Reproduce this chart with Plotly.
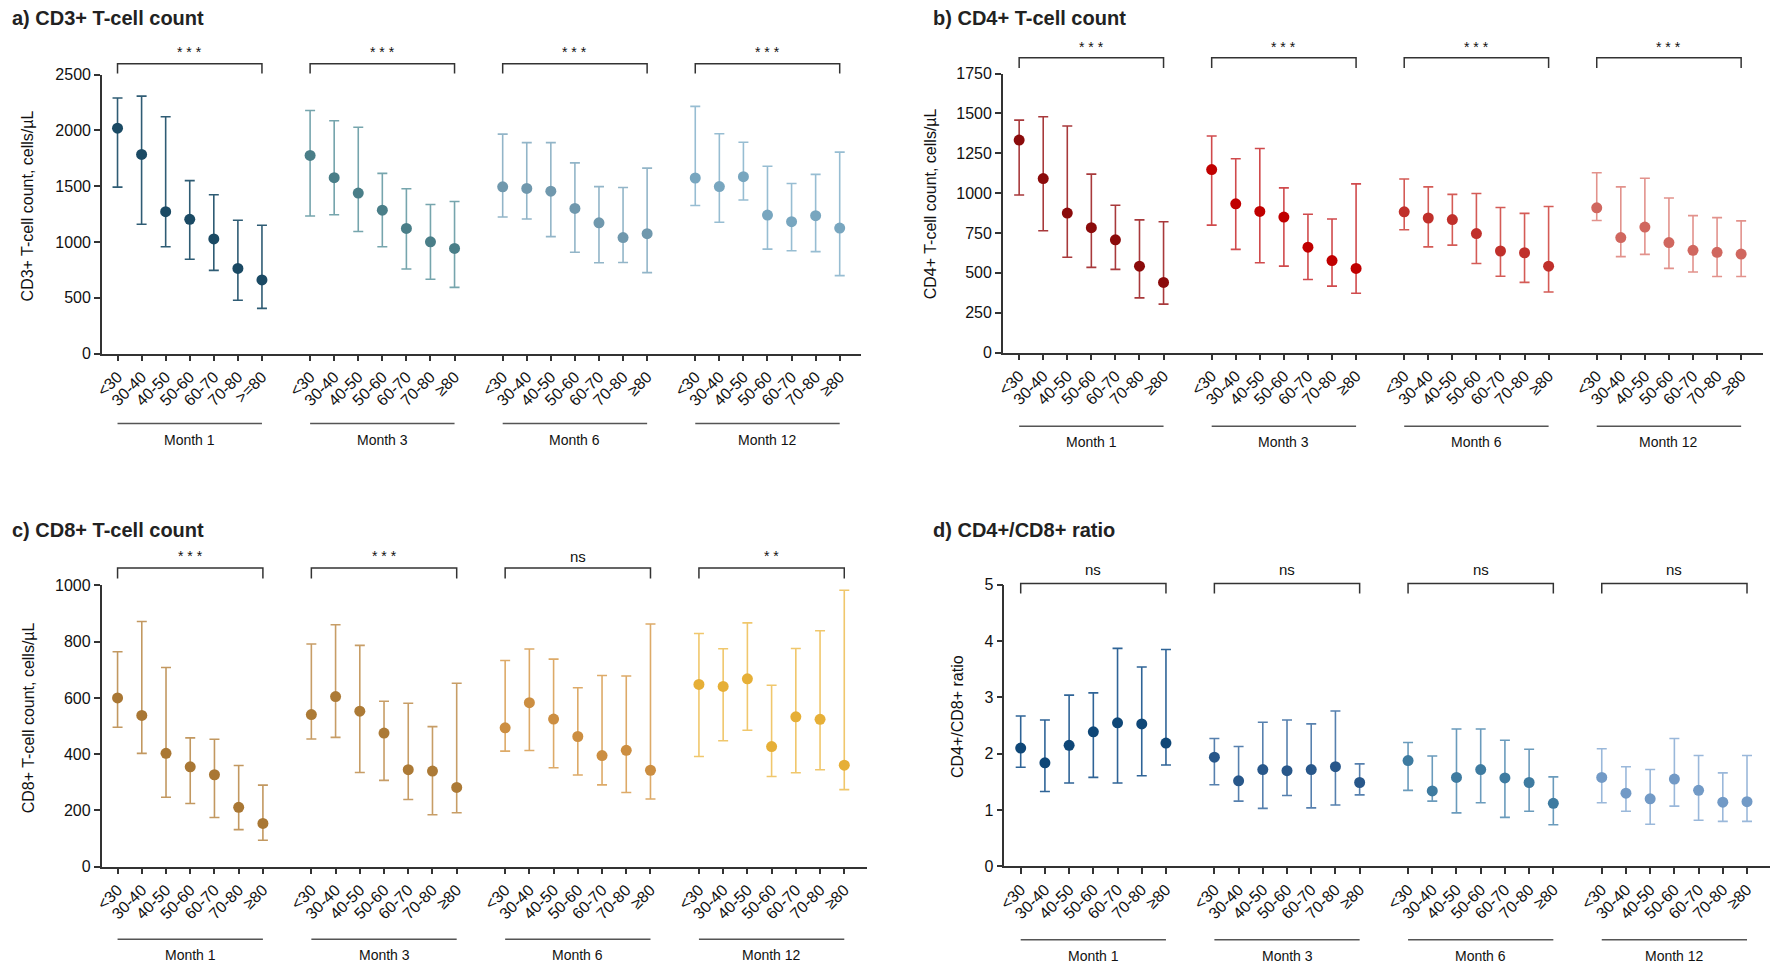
import plotly.graph_objects as go

W, H = 1772, 973

ages = ["<30", "30-40", "40-50", "50-60", "60-70", "70-80", "≥80"]
months = ["Month 1", "Month 3", "Month 6", "Month 12"]

# medians and upper / lower ends of the error bars, one row per month
cd3_mid = [[2019, 1784, 1271, 1203, 1027, 763, 660],
           [1775, 1576, 1438, 1285, 1121, 1001, 942],
           [1494, 1479, 1455, 1300, 1171, 1039, 1074],
           [1573, 1496, 1585, 1241, 1182, 1235, 1124]]
cd3_hi = [[2289, 2306, 2121, 1549, 1423, 1194, 1150],
          [2177, 2086, 2028, 1614, 1476, 1335, 1362],
          [1966, 1890, 1890, 1708, 1496, 1488, 1661],
          [2215, 1969, 1893, 1678, 1523, 1605, 1805]]
cd3_lo = [[1491, 1159, 957, 845, 745, 478, 405],
          [1232, 1244, 1094, 957, 757, 666, 593],
          [1224, 1206, 1048, 907, 813, 816, 725],
          [1326, 1177, 1376, 936, 921, 913, 698]]

cd4_mid = [[1333, 1091, 875, 783, 707, 542, 440],
           [1148, 933, 885, 850, 661, 577, 528],
           [883, 844, 834, 746, 637, 626, 542],
           [908, 721, 787, 690, 641, 629, 618]]
cd4_hi = [[1458, 1479, 1421, 1119, 924, 832, 820],
          [1358, 1216, 1280, 1033, 867, 838, 1058],
          [1089, 1039, 992, 998, 910, 873, 916],
          [1128, 1039, 1093, 969, 859, 846, 826]]
cd4_lo = [[988, 764, 598, 534, 522, 343, 304],
          [799, 647, 563, 542, 458, 417, 372],
          [770, 663, 674, 559, 479, 440, 380],
          [828, 602, 616, 528, 505, 477, 477]]

cd8_mid = [[600, 538, 403, 355, 327, 211, 154],
           [541, 605, 553, 475, 345, 340, 282],
           [494, 583, 525, 463, 395, 414, 343],
           [648, 641, 668, 427, 533, 524, 361]]
cd8_hi = [[764, 872, 708, 458, 453, 360, 290],
          [792, 860, 787, 588, 581, 498, 652],
          [733, 774, 738, 636, 680, 678, 863],
          [829, 775, 867, 645, 776, 839, 983]]
cd8_lo = [[496, 403, 247, 225, 175, 132, 94],
          [454, 460, 335, 307, 239, 185, 192],
          [411, 413, 352, 326, 291, 264, 241],
          [392, 448, 485, 321, 334, 345, 274]]

ratio_mid = [[2.10, 1.84, 2.15, 2.39, 2.55, 2.53, 2.19],
             [1.94, 1.52, 1.72, 1.70, 1.72, 1.77, 1.49],
             [1.88, 1.34, 1.58, 1.72, 1.57, 1.49, 1.12],
             [1.58, 1.30, 1.20, 1.55, 1.35, 1.14, 1.15]]
ratio_hi = [[2.67, 2.60, 3.04, 3.08, 3.87, 3.54, 3.85],
            [2.27, 2.13, 2.56, 2.60, 2.53, 2.76, 1.82],
            [2.20, 1.96, 2.44, 2.44, 2.24, 2.08, 1.59],
            [2.09, 1.77, 1.72, 2.27, 1.97, 1.66, 1.97]]
ratio_lo = [[1.76, 1.33, 1.48, 1.58, 1.48, 1.61, 1.80],
            [1.45, 1.16, 1.03, 1.26, 1.04, 1.09, 1.27],
            [1.35, 1.16, 0.95, 1.13, 0.87, 0.98, 0.74],
            [1.13, 0.98, 0.75, 1.07, 0.82, 0.80, 0.80]]

cd3_sig = ["* * *", "* * *", "* * *", "* * *"]
cd4_sig = ["* * *", "* * *", "* * *", "* * *"]
cd8_sig = ["* * *", "* * *", "ns", "* *"]
ratio_sig = ["ns", "ns", "ns", "ns"]


def px_x(v):
    return v / W


def px_y(v):
    return 1 - v / H


panels = [
    dict(ax="", title="a) CD3+ T-cell count", ytitle="CD3+ T-cell count, cells/µL",
         mid=cd3_mid, hi=cd3_hi, lo=cd3_lo, sig=cd3_sig,
         xdom=(94.3, 857), ydom=(351.7, 67.7), xr=(-0.65, 30.89), yr=(0, 2500), dtick=500,
         title_xy=(2, 10), ytitle_xy=(20, 201),
         br=(56.7, 66.7, 45), mline=(423, 440),
         mk=["#1B4A64", "#4A7E88", "#7098AD", "#78A6BF"],
         eb=["#2F5C74", "#76A5AD", "#92B5C8", "#97BDD2"],
         first_last=">=80"),
    dict(ax="2", title="b) CD4+ T-cell count", ytitle="CD4+ T-cell count, cells/µL",
         mid=cd4_mid, hi=cd4_hi, lo=cd4_lo, sig=cd4_sig,
         xdom=(999.3, 1763), ydom=(350.7, 66.7), xr=(-0.68, 30.91), yr=(0, 1750), dtick=250,
         title_xy=(927, 10), ytitle_xy=(927, 199),
         br=(50.7, 61, 40), mline=(425.7, 442),
         mk=["#8B0B0B", "#C00000", "#C0302B", "#D0675F"],
         eb=["#A8393B", "#D04A4C", "#D45B56", "#E2928C"],
         first_last="≥80"),
    dict(ax="3", title="c) CD8+ T-cell count", ytitle="CD8+ T-cell count, cells/µL",
         mid=cd8_mid, hi=cd8_hi, lo=cd8_lo, sig=cd8_sig,
         xdom=(94, 862.7), ydom=(874, 587.7), xr=(-0.66, 30.93), yr=(0, 1000), dtick=200,
         title_xy=(2, 531), ytitle_xy=(20, 722),
         br=(570, 580.7, 558), mline=(947.7, 964),
         mk=["#A97734", "#AC7A36", "#CC8E41", "#E6AF37"],
         eb=["#C29860", "#C79D66", "#DDAA68", "#F0C76C"],
         first_last="≥80"),
    dict(ax="4", title="d) CD4+/CD8+ ratio", ytitle="CD4+/CD8+ ratio",
         mid=ratio_mid, hi=ratio_hi, lo=ratio_lo, sig=ratio_sig,
         xdom=(1001, 1770), ydom=(873.7, 587), xr=(-0.67, 30.95), yr=(0, 5), dtick=1,
         title_xy=(927, 531), ytitle_xy=(954, 721),
         br=(585.7, 596, 571), mline=(948.3, 965),
         mk=["#0F4777", "#28578A", "#3E7BA0", "#729AC6"],
         eb=["#2F6497", "#5680AE", "#6A9BBC", "#9AB8DA"],
         first_last="≥80"),
]

fig = go.Figure()
annotations = []
shapes = []
axis_col = "#333333"

for p in panels:
    xa = "x" + p["ax"]
    ya = "y" + p["ax"]
    tickvals = []
    ticktext = []
    for g in range(len(months)):
        xs = [8 * g + i for i in range(len(ages))]
        labels = list(ages)
        if g == 0:
            labels[-1] = p["first_last"]
        tickvals += xs
        ticktext += labels
        mid = p["mid"][g]
        fig.add_trace(go.Scatter(
            x=xs, y=mid, mode="markers", xaxis=xa, yaxis=ya,
            marker=dict(size=11, color=p["mk"][g]),
            error_y=dict(type="data", symmetric=False,
                         array=[h - m for h, m in zip(p["hi"][g], mid)],
                         arrayminus=[m - l for m, l in zip(mid, p["lo"][g])],
                         color=p["eb"][g], thickness=1.6, width=5),
            showlegend=False, hoverinfo="x+y",
        ))

        # significance bracket above each month group
        top, foot, ty = p["br"]
        shapes.append(dict(
            type="path", xref=xa, yref="paper",
            path=f"M {xs[0]},{px_y(foot)} L {xs[0]},{px_y(top)} L {xs[-1]},{px_y(top)} L {xs[-1]},{px_y(foot)}",
            line=dict(color=axis_col, width=1.5)))
        annotations.append(dict(
            x=(xs[0] + xs[-1]) / 2, y=px_y(ty), xref=xa, yref="paper",
            text=p["sig"][g], showarrow=False, yanchor="middle",
            font=dict(size=15 if p["sig"][g] == "ns" else 14, color="#111111")))

        # month line and label under each group
        ly, lt = p["mline"]
        shapes.append(dict(
            type="line", xref=xa, yref="paper", x0=xs[0], x1=xs[-1],
            y0=px_y(ly), y1=px_y(ly), line=dict(color="#555555", width=1.5)))
        annotations.append(dict(
            x=(xs[0] + xs[-1]) / 2, y=px_y(lt), xref=xa, yref="paper",
            text=months[g], showarrow=False, yanchor="middle",
            font=dict(size=14, color="#111111")))

    fig.update_layout({
        "xaxis" + p["ax"]: dict(
            domain=[px_x(p["xdom"][0]), px_x(p["xdom"][1])], range=list(p["xr"]),
            anchor=ya, tickmode="array", tickvals=tickvals, ticktext=ticktext,
            tickangle=-45, tickfont=dict(size=16, color="#111111"),
            showline=True, linecolor=axis_col, linewidth=1.5,
            ticks="outside", ticklen=6, tickwidth=1.5, tickcolor=axis_col,
            showgrid=False, zeroline=False, fixedrange=True),
        "yaxis" + p["ax"]: dict(
            domain=[px_y(p["ydom"][0]), px_y(p["ydom"][1])], range=list(p["yr"]),
            anchor=xa, dtick=p["dtick"], tick0=0,
            tickfont=dict(size=16, color="#111111"),
            showline=True, linecolor=axis_col, linewidth=1.5,
            ticks="outside", ticklen=6, tickwidth=1.5, tickcolor=axis_col,
            showgrid=False, zeroline=False, fixedrange=True),
    })

    tx, ty0 = p["title_xy"]
    annotations.append(dict(
        x=px_x(tx), y=px_y(ty0), xref="paper", yref="paper", text="<b>" + p["title"] + "</b>",
        showarrow=False, xanchor="left", yanchor="middle",
        font=dict(size=20, color="#222222")))
    yx, yy = p["ytitle_xy"]
    annotations.append(dict(
        x=px_x(yx), y=px_y(yy), xref="paper", yref="paper", text=p["ytitle"],
        showarrow=False, textangle=-90, xanchor="center", yanchor="middle",
        font=dict(size=16, color="#111111")))

fig.update_layout(
    width=W, height=H, autosize=False,
    margin=dict(l=0, r=0, t=0, b=0),
    paper_bgcolor="white", plot_bgcolor="white",
    font=dict(family="Arial, Liberation Sans, sans-serif", color="#111111"),
    showlegend=False,
    annotations=annotations,
    shapes=shapes,
)

fig.write_html("out.html", config={"displayModeBar": False},
               post_script="document.body.style.margin='0';")
